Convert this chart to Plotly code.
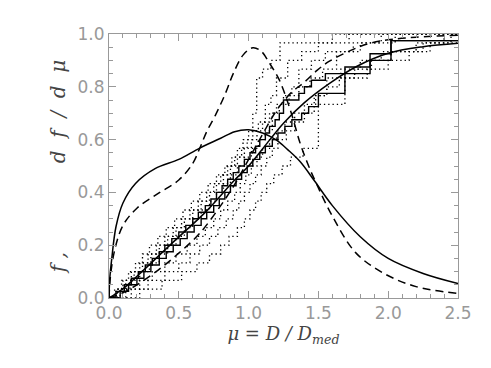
import numpy as np
import plotly.graph_objects as go

# smooth curves
pdf_x = [0, 0.005, 0.02, 0.05, 0.1, 0.19, 0.33, 0.5, 0.65, 0.8, 0.9, 1.0, 1.1,
         1.2, 1.28, 1.37, 1.47, 1.6, 1.8, 2.0, 2.25, 2.5]
pdf_solid = [0, 0.07, 0.15, 0.27, 0.36, 0.434, 0.49, 0.525, 0.568, 0.605, 0.63,
             0.637, 0.625, 0.598, 0.562, 0.516, 0.445, 0.35, 0.232, 0.15, 0.093, 0.055]

pdf_dash_x = [0, 0.01, 0.04, 0.1, 0.2, 0.35, 0.5, 0.6, 0.65, 0.7, 0.76, 0.83, 0.89,
              0.96, 1.03, 1.09, 1.15, 1.22, 1.3, 1.37, 1.43, 1.48, 1.6, 1.77, 1.97,
              2.2, 2.5]
pdf_dash = [0, 0.08, 0.18, 0.275, 0.34, 0.395, 0.447, 0.51, 0.567, 0.63, 0.69, 0.77,
            0.85, 0.92, 0.948, 0.935, 0.889, 0.826, 0.71, 0.585, 0.5, 0.44, 0.31,
            0.17, 0.093, 0.043, 0.017]

cdf_x = [0, 0.1, 0.21, 0.45, 0.7, 0.9, 1.0, 1.15, 1.25, 1.4, 1.58, 1.77, 2.0, 2.25, 2.5]
cdf_solid = [0, 0.035, 0.087, 0.207, 0.33, 0.447, 0.5, 0.598, 0.662, 0.74, 0.813,
             0.876, 0.927, 0.952, 0.965]

cdf_dash_x = [0, 0.1, 0.2, 0.35, 0.5, 0.65, 0.8, 0.9, 1.0, 1.1, 1.2, 1.3, 1.4, 1.49,
              1.57, 1.68, 1.79, 1.87, 2.0, 2.2, 2.5]
cdf_dash = [0, 0.02, 0.05, 0.105, 0.17, 0.245, 0.35, 0.43, 0.525, 0.62, 0.71, 0.775,
            0.818, 0.862, 0.894, 0.925, 0.951, 0.965, 0.978, 0.988, 0.995]

# sample values behind the step curves (empirical cdfs)
solid_a = [0.05, 0.11, 0.16, 0.21, 0.26, 0.31, 0.36, 0.40, 0.45, 0.50, 0.55, 0.60,
           0.64, 0.69, 0.73, 0.77, 0.81, 0.85, 0.89, 0.93, 0.97, 1.01, 1.05, 1.08,
           1.12, 1.15, 1.19, 1.22, 1.25, 1.25, 1.36, 1.40, 1.45, 1.55, 1.69, 1.87,
           1.87, 2.02, 2.02, 2.6]
solid_b = [0.08, 0.14, 0.20, 0.25, 0.30, 0.36, 0.41, 0.46, 0.51, 0.56, 0.61, 0.66,
           0.70, 0.75, 0.79, 0.83, 0.87, 0.91, 0.95, 0.99, 1.03, 1.08, 1.12, 1.17,
           1.21, 1.26, 1.31, 1.38, 1.43, 1.50, 1.50, 1.69, 1.69, 1.69, 1.87, 1.87,
           2.02, 2.02, 2.02, 2.7]

dot1 = [0.04, 0.09, 0.14, 0.19, 0.24, 0.29, 0.35, 0.41, 0.47, 0.53, 0.59, 0.65, 0.71,
        0.77, 0.83, 0.88, 0.92, 0.96, 1.00, 1.03, 1.03, 1.058, 1.058, 1.058, 1.058,
        1.10, 1.16, 1.225, 1.225, 1.60]
dot2 = [0.22, 0.38, 0.52, 0.63, 0.72, 0.80, 0.86, 0.92, 0.97, 1.01, 1.05, 1.09, 1.13,
        1.18, 1.24, 1.30, 1.39, 1.50, 1.50, 1.50, 1.50, 1.50, 1.69, 1.69, 1.69, 1.85,
        2.0, 2.15, 2.3, 2.45]
dot3 = [0.06, 0.12, 0.18, 0.24, 0.30, 0.36, 0.42, 0.48, 0.54, 0.60, 0.66, 0.72, 0.77,
        0.82, 0.87, 0.92, 0.97, 1.02, 1.06, 1.10, 1.15, 1.20, 1.25, 1.31, 1.36, 1.36,
        1.45, 1.55, 1.75, 1.95]
dot4 = [0.16, 0.28, 0.40, 0.50, 0.58, 0.65, 0.72, 0.78, 0.84, 0.89, 0.93, 0.97, 1.01,
        1.05, 1.09, 1.13, 1.17, 1.21, 1.27, 1.33, 1.40, 1.47, 1.47, 1.56, 1.65, 1.76,
        1.88, 2.02, 2.25, 2.6]
dot5 = [0.08, 0.15, 0.22, 0.29, 0.36, 0.42, 0.48, 0.54, 0.60, 0.66, 0.72, 0.77, 0.82,
        0.87, 0.92, 0.97, 1.02, 1.07, 1.12, 1.17, 1.17, 1.22, 1.29, 1.36, 1.44, 1.53,
        1.63, 1.63, 1.80, 2.05]
dot6 = [0.12, 0.22, 0.31, 0.40, 0.48, 0.56, 0.63, 0.69, 0.75, 0.80, 0.85, 0.90, 0.94,
        0.98, 1.02, 1.06, 1.10, 1.15, 1.20, 1.26, 1.33, 1.40, 1.48, 1.56, 1.56, 1.66,
        1.80, 1.95, 2.20, 2.40]
dot7 = [0.05, 0.10, 0.16, 0.22, 0.28, 0.34, 0.40, 0.46, 0.52, 0.58, 0.64, 0.70, 0.75,
        0.80, 0.85, 0.90, 0.95, 0.99, 1.03, 1.07, 1.12, 1.12, 1.16, 1.20, 1.20, 1.28,
        1.28, 1.38, 1.50, 1.72]


def ecdf(vals):
    v = np.sort(vals)
    n = len(v)
    x = np.concatenate([[0], v, [2.8]])
    y = np.concatenate([[0], np.arange(1, n + 1) / n, [1.0]])
    return x, y


fig = go.Figure()

for s in [dot1, dot2, dot3, dot4, dot5, dot6, dot7]:
    x, y = ecdf(s)
    fig.add_trace(go.Scatter(x=x, y=y, mode='lines', line_shape='hv',
                             line=dict(color='black', width=1.3, dash='1.3px,3px')))

for s in [solid_a, solid_b]:
    x, y = ecdf(s)
    fig.add_trace(go.Scatter(x=x, y=y, mode='lines', line_shape='hv',
                             line=dict(color='black', width=1.4)))

fig.add_trace(go.Scatter(x=cdf_x, y=cdf_solid, mode='lines', line_shape='spline',
                         line=dict(color='black', width=1.5)))
fig.add_trace(go.Scatter(x=cdf_dash_x, y=cdf_dash, mode='lines', line_shape='spline',
                         line=dict(color='black', width=1.5, dash='8px,5px')))
fig.add_trace(go.Scatter(x=pdf_x, y=pdf_solid, mode='lines', line_shape='spline',
                         line=dict(color='black', width=1.5)))
fig.add_trace(go.Scatter(x=pdf_dash_x, y=pdf_dash, mode='lines', line_shape='spline',
                         line=dict(color='black', width=1.5, dash='8px,5px')))

axis_style = dict(showline=True, linecolor='#999', linewidth=1, mirror='ticks',
                  ticks='inside', tickcolor='#999', ticklen=7, showgrid=False,
                  zeroline=False, tickformat='.1f', automargin=False,
                  tickfont=dict(family='DejaVu Sans', size=17, color='#999'))

sp = '\u00a0'
x_title = '<i>\u03bc' + sp + '=' + sp + 'D' + sp + '/' + sp + 'D<sub>med</sub></i>'
y_title = ('<i>f' + sp + ',' + sp * 14 + 'd' + sp * 2 + 'f' + sp * 2 + '/' + sp * 2
           + 'd' + sp * 2 + '\u03bc</i>')

fig.update_layout(
    width=491, height=368,
    margin=dict(l=101, r=41, t=26, b=78),
    paper_bgcolor='white', plot_bgcolor='white',
    showlegend=False,
    xaxis=dict(range=[0, 2.5], dtick=0.5,
               minor=dict(dtick=0.1, ticklen=4, ticks='inside', tickcolor='#999'),
               title=dict(text=x_title,
                          font=dict(family='DejaVu Serif', size=18, color='#444'),
                          standoff=4),
               **axis_style),
    yaxis=dict(range=[0, 1.0], dtick=0.2,
               minor=dict(dtick=0.05, ticklen=4, ticks='inside', tickcolor='#999'),
               title=dict(text=y_title,
                          font=dict(family='DejaVu Serif', size=20, color='#444'),
                          standoff=6),
               **axis_style),
)

fig.write_html("out.html")
